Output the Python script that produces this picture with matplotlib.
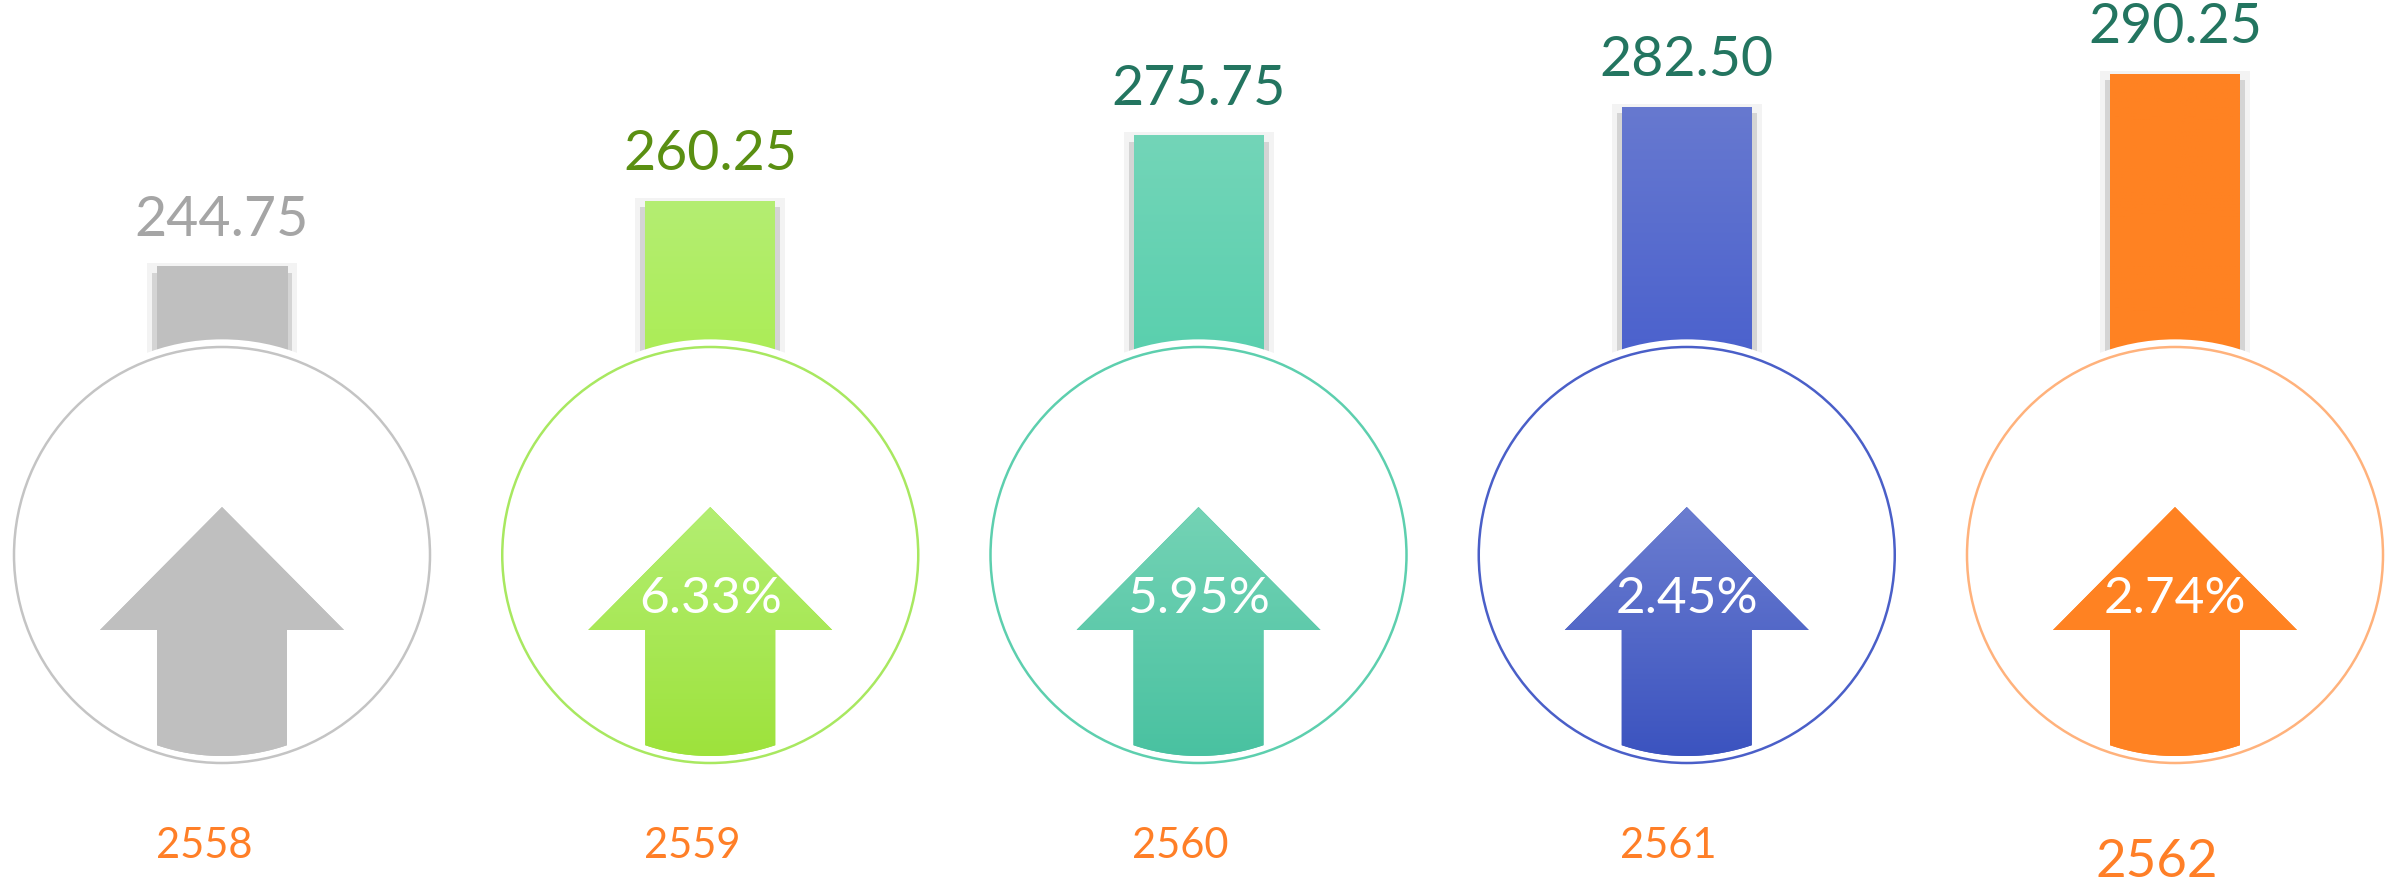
'''
Growth badges: bar + circled up-arrow per year.
'''
import numpy as np
import matplotlib
matplotlib.use('Agg')
import matplotlib.pyplot as plt
from matplotlib.patches import Ellipse, Polygon
from matplotlib.colors import LinearSegmentedColormap

plt.rcParams['font.family'] = ['Lato', 'DejaVu Sans']

# data
years = ['2558', '2559', '2560', '2561', '2562']
values = [244.75, 260.25, 275.75, 282.50, 290.25]
growth = [None, 6.33, 5.95, 2.45, 2.74]

# styles (top colour, bottom colour) for bars / arrows
bar_grad = [('#c0c0c0', '#bfbfbf'), ('#b4ee72', '#a6ec44'), ('#73d5b8', '#4ecda9'),
            ('#6779d0', '#4058cc'), ('#ff8222', '#ff8222')]
arrow_grad = [('#bfbfbf', '#bfbfbf'), ('#b3ee72', '#9de23a'), ('#74d3b5', '#48c1a0'),
              ('#6b7dd0', '#3a52bf'), ('#ff8222', '#ff8222')]
ring_colors = ['#c4c4c4', '#a8e860', '#5dcfae', '#4a5fc8', '#ffb27c']
label_colors = ['#a5a5a5', '#5a8f12', '#237560', '#237560', '#237560']
year_sizes = [30, 30, 30, 30, 38]
year_base = [31, 31, 31, 31, 12]

W, H = 2402, 889
step = 488.25          # pixels between badges
x0 = 222               # centre of first badge (px)
ppu = 4.232            # pixels per value unit
y_top_val = 307.7
base = 200
r = 208                # circle radius (px)
cy = H - 555           # circle centre (px from bottom)

fig = plt.figure(figsize=(W / 100, H / 100), dpi=100)
xlim = (-x0 / step, (W - x0) / step)
x = np.arange(len(years))
vals = np.array(values)

# bars
ax = fig.add_axes([0, 0, 1, 1])
bw = 130 / step
ax.bar(x, vals - base + 0.7, bottom=base, width=bw + 20 / step, color='#f3f3f3', zorder=1)
ax.bar(x, vals - base - 1.5, bottom=base, width=bw + 10 / step, color='#d4d4d4', zorder=2)
bars = ax.bar(x, vals - base, bottom=base, width=bw, color=[c[1] for c in bar_grad], zorder=3)
grad = np.linspace(0, 1, 256).reshape(-1, 1)
for i, b in enumerate(bars):
    cmap = LinearSegmentedColormap.from_list('g%d' % i, [bar_grad[i][1], bar_grad[i][0]])
    im = ax.imshow(grad, cmap=cmap, origin='lower', aspect='auto', zorder=4,
                   extent=(b.get_x(), b.get_x() + b.get_width(), base, values[i]))
    im.set_clip_path(b)
    ax.annotate('%.2f' % values[i], (i, values[i]), xytext=(0, 22), textcoords='offset points',
                ha='center', va='baseline', fontsize=40, color=label_colors[i], zorder=5)
ax.set_xlim(xlim)
ax.set_ylim(y_top_val - H / ppu, y_top_val)
ax.axis('off')

# circles and arrows, in pixel units vertically
ax2 = fig.add_axes([0, 0, 1, 1])
ax2.patch.set_visible(False)
for i in range(len(years)):
    ax2.add_patch(Ellipse((i, cy), 2 * r / step, 2 * r, fc='white', ec='white', lw=11, zorder=1))
    ax2.add_patch(Ellipse((i, cy), 2 * r / step, 2 * r, fc='none', ec=ring_colors[i], lw=1.8, zorder=3))

    xs = np.linspace(65, -65, 40)
    ys = -np.sqrt((r - 7) ** 2 - xs ** 2)
    pts = [(0, 48), (122, -75), (65, -75)] + list(zip(xs, ys)) + [(-65, -75), (-122, -75)]
    pts = [(i + px / step, cy + py) for px, py in pts]
    arrow = Polygon(pts, closed=True, fc=arrow_grad[i][1], ec='none', zorder=2)
    ax2.add_patch(arrow)
    cmap = LinearSegmentedColormap.from_list('a%d' % i, [arrow_grad[i][1], arrow_grad[i][0]])
    im = ax2.imshow(grad, cmap=cmap, origin='lower', aspect='auto', zorder=2,
                    extent=(i - 122 / step, i + 122 / step, cy - r, cy + 48))
    im.set_clip_path(arrow)

    if growth[i] is not None:
        ax2.text(i, H - 613, '%.2f%%' % growth[i], ha='center', va='baseline',
                 fontsize=37, color='white', zorder=5)
    ax2.text(i - 18 / step, year_base[i], years[i], ha='center', va='baseline',
             fontsize=year_sizes[i], color='#ff7f27', zorder=5)

ax2.set_xlim(xlim)
ax2.set_ylim(0, H)
ax2.axis('off')

plt.savefig('out.png', dpi=100, facecolor='white')
